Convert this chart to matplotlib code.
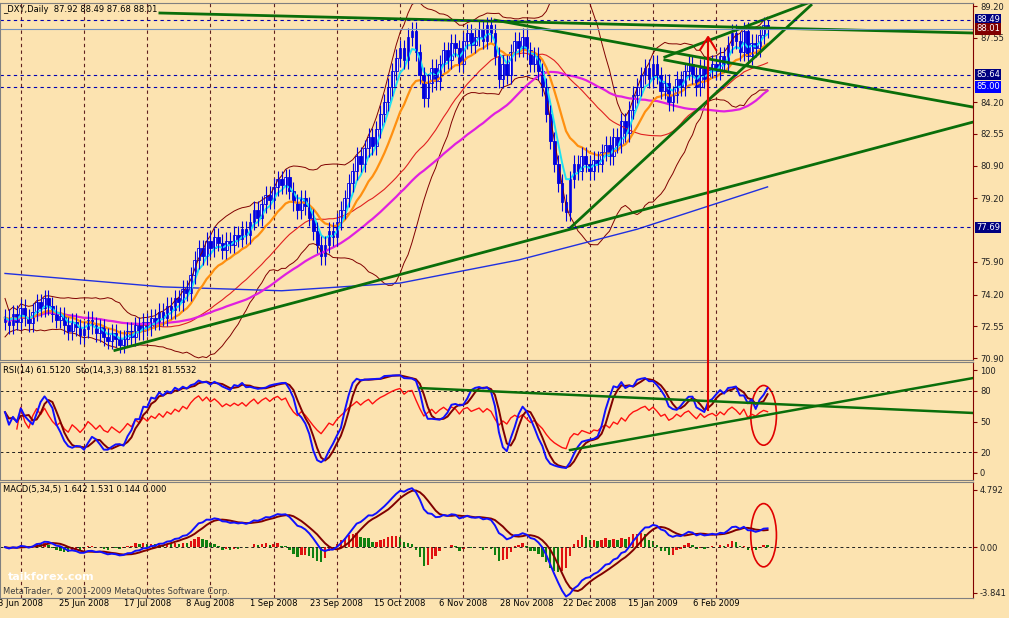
import numpy as np
import pandas as pd
import matplotlib.pyplot as plt
from matplotlib.patches import Ellipse, Rectangle

# daily closes, _DXY, end of May 2008 .. Feb 2009
closes = [
    73.0, 72.6, 73.2, 72.8, 73.5, 73.0, 72.7, 73.3, 73.8, 73.5,
    74.0, 73.6, 73.2, 72.9, 73.1, 72.6, 72.3, 72.8, 72.5, 72.1,
    72.4, 72.9, 72.6, 72.2, 72.5, 72.0, 71.8, 72.2, 71.9, 71.6,
    71.9, 72.3, 72.0, 72.6, 72.3, 72.8, 72.5, 73.0, 72.8, 73.3,
    73.0, 73.6, 73.4, 74.0, 73.8, 74.5, 74.3, 75.2, 76.0, 76.6,
    76.2, 77.0, 76.6, 77.2, 76.9, 76.5, 77.0, 76.8, 77.3, 77.1,
    77.6, 77.3, 78.0, 78.6, 78.2, 78.9, 79.4, 79.1, 79.8, 80.2,
    79.9, 80.3, 79.6, 79.0, 78.6, 79.2, 78.8, 78.2, 77.5, 76.8,
    76.2, 76.8, 77.5, 77.2, 78.0, 78.6, 79.2, 80.0, 80.6, 81.4,
    81.0, 81.8, 82.4, 81.9, 82.8, 83.6, 84.2, 85.0, 85.8, 86.5,
    87.0, 86.4, 87.6, 87.9, 86.8, 85.6, 84.4, 85.2, 86.0, 85.3,
    86.2, 86.9, 86.4, 87.3, 87.0, 86.2, 87.4, 87.8, 87.2, 87.6,
    88.0, 87.4, 88.2, 87.8, 86.6, 85.4, 86.2, 85.6, 86.8, 87.4,
    87.0, 87.6, 86.9, 86.2, 86.6, 85.8, 85.0, 83.6, 82.2, 81.0,
    80.0, 79.0, 78.5, 80.2, 81.0, 80.6, 81.4, 81.0, 80.6, 81.2,
    81.0, 81.6, 82.0, 81.4, 82.4, 82.0, 83.2, 82.6, 83.8, 84.6,
    85.0, 85.6, 86.0, 85.4, 86.2, 85.6, 84.8, 85.2, 84.2, 84.6,
    85.4, 85.0, 85.8, 86.2, 85.6, 85.0, 86.0, 85.4, 85.9, 86.2,
    85.8, 86.6, 86.2, 87.2, 87.8, 87.4, 86.8, 87.9, 86.6, 87.3,
    87.0, 87.7, 88.2, 88.01,
]
first_open = 72.8
last_high = 88.49

date_labels = ['3 Jun 2008', '25 Jun 2008', '17 Jul 2008', '8 Aug 2008', '1 Sep 2008',
               '23 Sep 2008', '15 Oct 2008', '6 Nov 2008', '28 Nov 2008', '22 Dec 2008',
               '15 Jan 2009', '6 Feb 2009']
date_bars = [4, 20, 36, 52, 68, 84, 100, 116, 132, 148, 164, 180]

price_ticks = [89.20, 87.55, 84.20, 82.55, 80.90, 79.20, 75.90, 74.20, 72.55, 70.90]
level_lines = [88.49, 85.64, 85.00, 77.69]
rsi_ticks = [100, 80, 50, 20, 0]
macd_ticks = [4.792, 0.00, -3.841]

ma200_bars = [0, 40, 70, 100, 130, 160, 193]
ma200_vals = [75.3, 74.6, 74.4, 74.8, 76.0, 77.6, 79.8]

# hand drawn trend lines (bar, price)
main_lines = [
    [(39.2, 88.84), (245, 87.8)],
    [(124, 88.47), (245, 83.95)],
    [(27.8, 71.3), (245, 83.17)],
    [(143, 77.66), (204, 89.25)],
    [(167, 86.55), (205, 89.5)],
    [(167, 86.4), (185, 85.7)],
]
rsi_lines = [
    [(105, 82.5), (245, 58.3)],
    [(143, 22.3), (245, 92.2)],
]

BG = '#FCE3B0'
DARKRED = '#800000'
GREEN = '#0A6E0A'

c = pd.Series(closes)
n = len(c)
idx = np.arange(n)
opens = np.r_[first_open, c.values[:-1]]
highs = np.maximum(opens, c.values) + 0.45
lows = np.minimum(opens, c.values) - 0.45
highs[-1] = last_high

ema = lambda s, p: s.ewm(span=p, adjust=False).mean()
ema5 = ema(c, 5)
ema13 = ema(c, 13)
sma50 = c.rolling(50, min_periods=1).mean()
sma30 = c.rolling(30, min_periods=1).mean()
mid = c.rolling(20, min_periods=1).mean()
sd = c.rolling(20, min_periods=2).std().fillna(0.5)
up, dn = mid + 2 * sd, mid - 2 * sd

delta = c.diff().fillna(0)
g = delta.clip(lower=0).ewm(alpha=1 / 14, adjust=False).mean()
l = (-delta.clip(upper=0)).ewm(alpha=1 / 14, adjust=False).mean()
rsi = 100 - 100 / (1 + g / l.replace(0, 1e-6))
rsi[:3] = np.nan
hh = pd.Series(highs).rolling(14, min_periods=1).max()
ll = pd.Series(lows).rolling(14, min_periods=1).min()
k = (100 * (c - ll) / (hh - ll)).rolling(3, min_periods=1).mean()
dline = k.rolling(3, min_periods=1).mean()

macd = ema(c, 5) - ema(c, 34)
sig = macd.rolling(5, min_periods=1).mean()
hist = macd - sig

W, H = 1009, 618
fig = plt.figure(figsize=(W / 100, H / 100), dpi=100, facecolor=BG)
x0, x1 = -1.27, 245


def mkax(top, bot):
    ax = fig.add_axes([0, 1 - bot / H, 973 / W, (bot - top) / H], facecolor=BG)
    ax.set_xlim(x0, x1)
    for s in ax.spines.values():
        s.set_color('#808080')
    ax.spines['right'].set_color(DARKRED)
    ax.yaxis.tick_right()
    ax.tick_params(axis='y', labelsize=6, colors=DARKRED, length=3, pad=2)
    ax.tick_params(axis='x', length=0, labelbottom=False)
    ax.set_xticks(date_bars)
    ax.grid(axis='x', color='#602020', ls=(0, (3, 3)), lw=0.8)
    return ax


ax = mkax(3, 360)
ax.set_ylim(70.80, 89.36)
ax.set_yticks(price_ticks)
ax.set_yticklabels([f'{v:.2f}' for v in price_ticks], color='#202020')

ax.plot(idx, up, color=DARKRED, lw=0.7)
ax.plot(idx, dn, color=DARKRED, lw=0.7)
ax.plot(idx, sma30, color='#E02020', lw=0.8)
ax.plot(ma200_bars, ma200_vals, color='#2030E0', lw=1)
ax.plot(idx, sma50, color='#E020E0', lw=1.6)
ax.plot(idx, ema13, color='#FF9010', lw=1.6)
ax.plot(idx, ema5, color='#20E0F0', lw=1.4)
for i in idx:
    o, cl = opens[i], c.values[i]
    ax.vlines(i, lows[i], highs[i], color='#0000E0', lw=0.8)
    ax.add_patch(Rectangle((i - 0.35, min(o, cl)), 0.7, max(abs(cl - o), 0.05),
                           facecolor='white' if cl >= o else '#0000E0', edgecolor='#0000E0', lw=0.6))
for ln in main_lines:
    ax.plot(*zip(*ln), color=GREEN, lw=2)
for v in level_lines:
    ax.axhline(v, color='#0000B0', ls=(0, (3, 3)), lw=0.8)
ax.axhline(closes[-1], color='#7090C0', lw=0.8)
for v, fc in [(88.49, '#000080'), (88.01, DARKRED), (85.64, '#000080'), (85.00, '#0000FF'), (77.69, '#000080')]:
    ax.text(1.003, v, f'{v:.2f}', transform=ax.get_yaxis_transform(), fontsize=6, color='white',
            va='center', ha='left', bbox=dict(fc=fc, ec='none', pad=1), clip_on=False)
ax.text(0.003, 0.995, '_DXY,Daily  87.92 88.49 87.68 88.01', transform=ax.transAxes,
        fontsize=6, va='top')

ax2 = mkax(362, 480)
ax2.set_ylim(-6.8, 107.8)
ax2.set_yticks(rsi_ticks)
ax2.set_yticklabels([str(v) for v in rsi_ticks], color='#202020')
for v in (80, 20):
    ax2.axhline(v, color='#202020', ls=(0, (3, 3)), lw=0.7)
ax2.plot(idx, rsi, color='#FF1010', lw=1)
ax2.plot(idx, dline, color=DARKRED, lw=1.4)
ax2.plot(idx, k, color='#1010FF', lw=1.4)
for ln in rsi_lines:
    ax2.plot(*zip(*ln), color=GREEN, lw=1.8)
ax2.add_patch(Ellipse((192, 56), 6.5, 58, fill=False, ec='#E00000', lw=1.2))
ax2.text(0.003, 0.97, 'RSI(14) 61.5120  Sto(14,3,3) 88.1521 81.5532', transform=ax2.transAxes,
         fontsize=6, va='top')

ax3 = mkax(482, 598)
ax3.set_ylim(-4.26, 5.46)
ax3.set_yticks(macd_ticks)
ax3.set_yticklabels(['4.792', '0.00', '-3.841'], color='#202020')
ax3.axhline(0, color='#202020', ls=(0, (3, 3)), lw=0.7)
hcol = ['#E01010' if h >= p else '#108010' for h, p in zip(hist, hist.shift(1).fillna(0))]
ax3.bar(idx, hist * 1.4, width=0.6, color=hcol)
ax3.plot(idx, sig, color=DARKRED, lw=1.4)
ax3.plot(idx, macd, color='#1010FF', lw=1.4)
ax3.add_patch(Ellipse((192, 1.0), 6.5, 5.3, fill=False, ec='#E00000', lw=1.2))
ax3.text(0.003, 0.97, 'MACD(5,34,5) 1.642 1.531 0.144 0.000', transform=ax3.transAxes,
         fontsize=6, va='top')
ax3.text(0.003, 0.02, 'MetaTrader, © 2001-2009 MetaQuotes Software Corp.', transform=ax3.transAxes,
         fontsize=6, va='bottom', color='#404040')
ax3.text(0.008, 0.14, 'taikforex.com', transform=ax3.transAxes, fontsize=8, fontweight='bold',
         color='white', va='bottom')
ax3.tick_params(axis='x', labelbottom=True, labelsize=6, pad=1)
ax3.set_xticklabels(date_labels, ha='center')

# red arrow from RSI panel up into price panel
xa = (5 + 3.95 * 178) / W
fig.add_artist(plt.Line2D([xa, xa], [1 - 410 / H, 1 - 38 / H], color='#E00000', lw=1.5))
fig.add_artist(plt.Line2D([xa - 0.008, xa, xa + 0.008], [1 - 50 / H, 1 - 37 / H, 1 - 50 / H],
                          color='#E00000', lw=1.5))

fig.savefig('out.png', dpi=100, facecolor=BG)
